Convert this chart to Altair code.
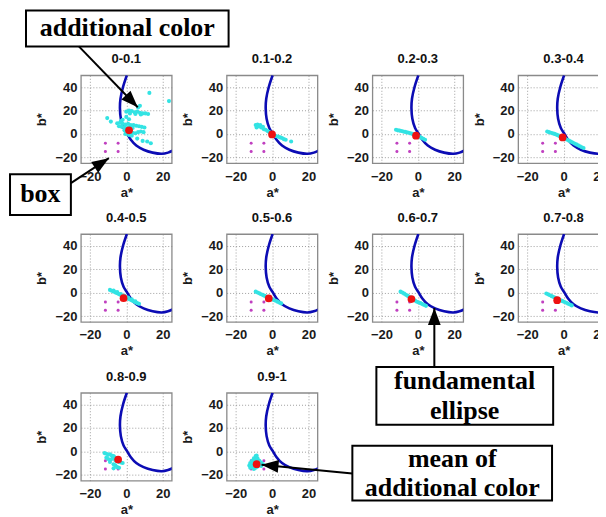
import altair as alt
import pandas as pd

# ---------------- data ----------------
panel_titles = ["0-0.1", "0.1-0.2", "0.2-0.3", "0.3-0.4", "0.4-0.5",
                "0.5-0.6", "0.6-0.7", "0.7-0.8", "0.8-0.9", "0.9-1"]

# fundamental ellipse (same in every panel), points along the curve
ellipse_a = [0.3, -1.8, -3.2, -3.5, -3.0, -1.5, 0.5, 2.5, 5.5, 9.5, 14.5, 19.5, 23.0, 26.0]
ellipse_b = [50.0, 40.0, 30.0, 22.0, 13.0, 5.0, 0.0, -5.0, -10.0, -13.5, -16.0, -17.0, -16.0, -14.0]

# the "box" (four magenta corner points)
box_a = [-11.5, -4.5, -11.5, -4.5]
box_b = [-8.0, -8.0, -15.0, -15.0]

# mean of additional color, one per panel
mean_a = [1.5, 0.0, -1.0, -0.5, -1.5, -1.8, -3.5, -3.5, -4.5, -8.5]
mean_b = [3.0, -0.5, -1.5, -3.0, -4.8, -5.0, -5.5, -6.5, -7.0, -11.0]

# additional color clouds, (a*, b*) pairs per panel
cloud_0 = [(0, 19), (1.5, 20), (3, 19.5), (4.5, 18.5), (6, 19), (7.5, 18), (9, 17.5), (10.5, 17.5),
           (12, 17), (2, 17.5), (5, 17), (8, 16.5), (6.5, 22.5), (7.5, 24), (12.7, 35), (23.5, 28),
           (-10.5, 13.5), (-8.5, 10.5), (0, 14.5), (-2, 12), (1.5, 12.5), (-3, 11),
           (-5, 9), (-3.5, 9.5), (-2, 8.5), (-0.5, 8), (1, 8.5), (2.5, 7.5), (4, 7.5), (5.5, 7),
           (7, 6.5), (8.5, 6), (10, 5.5), (-4, 6.5), (-2.5, 6), (-1, 5.5), (0.5, 5), (2, 5.5), (3.5, 5),
           (-1, 3), (0.5, 2), (2, 1.5), (3.5, 1), (5, 0.5), (6.5, 1.5), (8, 2), (9.5, 1.5), (-0.5, 0),
           (1.5, -1), (3, -1.5), (6, -4), (9, -6), (11.5, -6.5), (13.5, -8)]
cloud_1 = [(-9, 7.5), (-8, 8), (-7.5, 6.5), (-6.5, 7.5), (-6, 5.5), (-5, 6), (-8.5, 5.5), (-4.5, 4),
           (-3.5, 3.5), (-2.5, 2.5), (-1.5, 1.5), (-0.5, 0.5), (0.5, -0.5), (1.5, -1.5), (2.5, -2),
           (3.5, -2.5), (4.5, -3), (5.5, -3.5), (6.5, -4.5), (7.5, -5), (10.5, -6.5)]
cloud_2 = [(-12, 3.5), (-11, 3), (-10, 2.8), (-9, 2.5), (-8, 2), (-7, 1.7), (-6, 1.3), (-5, 1), (-4, 0.5),
           (-3, 0), (-2, -0.6), (-1, -1.2), (0, -1.8), (1, -2.6), (2, -3.4), (3, -4.2), (4, -5)]
cloud_3 = [(-9, 2), (-8, 1.5), (-7, 1), (-6, 0.5), (-5, 0), (-4, -0.6), (-3, -1.3), (-2, -2), (-1, -2.8),
           (0, -3.5), (1, -4.2), (2, -5), (3, -5.8), (4, -6.6), (5, -7.4), (6, -8.2), (7, -9), (8, -9.8),
           (9, -10.6), (10, -11.4), (11, -12)]
cloud_4 = [(-9, 2.3), (-8, 1.6), (-7, 0.9), (-6, 0.2), (-5, -0.5), (-4, -1.3), (-3, -2.1), (-2, -2.9),
           (-1, -3.6), (0, -4.3), (1, -5.1), (2, -5.9), (3, -6.6), (4, -7.4), (5, -8.2), (6, -9), (7, -9.6),
           (-7, 1.8), (-5, 0.5), (-3, -1.2), (-1, -2.8), (1, -4.2), (3, -5.8), (5, -7.5)]
cloud_5 = [(-9, 0.8), (-8, 0.1), (-7, -0.6), (-6, -1.4), (-5, -2.1), (-4, -2.8), (-3, -3.6), (-2, -4.3),
           (-1, -5), (0, -5.6), (1, -6.3), (2, -7), (3, -7.7), (4, -8.5), (5, -9.2)]
cloud_6 = [(-9.5, 0.8), (-8.5, 0), (-7.5, -0.9), (-6.5, -1.9), (-5.5, -2.8), (-4.5, -3.8), (-3.5, -4.8),
           (-2.5, -5.8), (-1.5, -6.8), (-0.5, -7.8), (0.5, -8.4), (1.5, -9), (2.5, -9.8), (3.5, -10.6),
           (4.5, -11.3)]
cloud_7 = [(-9.5, -0.8), (-8.5, -1.5), (-7.5, -2.2), (-6.5, -3), (-5.5, -3.7), (-4.5, -4.4), (-3.5, -5.2),
           (-2.5, -5.9), (-1.5, -6.6), (-0.5, -7.3), (0.5, -8), (1.5, -8.7), (2.5, -9.5), (3.5, -10.2),
           (4.5, -10.9)]
cloud_8 = [(-12, -1.5), (-11, -2), (-10, -3), (-9, -2.5), (-8, -3.5), (-7, -4), (-6.5, -5), (-11, -5.5),
           (-10, -6.5), (-8.5, -7), (-7.5, -6), (-6, -7.5), (-5, -8.5), (-4, -9), (-3, -9.5), (-2, -10),
           (-7, -11), (-6, -12), (-5, -13.5), (-7, -14.5), (-4, -14), (-9, -9)]
cloud_9 = [(-12, -10), (-12.5, -12), (-11, -8), (-11, -13.5), (-10, -6), (-10, -9), (-10, -12), (-9, -4),
           (-9, -7.5), (-9, -14), (-8, -6), (-8, -9), (-8, -13), (-7, -8), (-7, -11), (-6, -9.5),
           (-6, -12.5), (-5, -11), (-8.5, -3.5), (-12, -14), (-10, -15), (-11, -11)]
clouds = [cloud_0, cloud_1, cloud_2, cloud_3, cloud_4, cloud_5, cloud_6, cloud_7, cloud_8, cloud_9]

# annotations (in data units of the panel they are drawn in)
annotations = {
    0: [dict(box=(-55.2, 56.3, 105.4, 74.7), lines=[("additional color", 0.55, 90.1)],
             arrow=(-26.1, 74.7, 6.3, 22.7, 46.0)),
        dict(box=(-64.0, -30.5, -34.4, -69.3), lines=[("box", -47.3, -51.4)],
             arrow=(-30.5, -42.0, -9.6, -20.7, 326.8))],
    6: [dict(box=(-22.8, 74.5, -63.4, -112.8),
             lines=[("fundamental", 25.8, -75.3), ("ellipse", 25.8, -100.9)],
             arrow=(9.1, -63.4, 9.1, -13.1, 270.0))],
    9: [dict(box=(44.2, 154.1, 4.8, -42.0),
             lines=[("mean of", 99.2, -6.25), ("additional color", 99.2, -31.0)],
             arrow=(44.2, -19.0, -5.8, -11.4, 185.6))],
}

# ---------------- chart ----------------
W, H = 91, 88
xs = alt.Scale(domain=[-25, 25], nice=False, zero=False)
ys = alt.Scale(domain=[-25, 50], nice=False, zero=False)
X = alt.X("a:Q", scale=xs, title="a*",
          axis=alt.Axis(values=[-20, 0, 20], labelPadding=7, titlePadding=3))
Y = alt.Y("b:Q", scale=ys, title="b*",
          axis=alt.Axis(values=[-20, 0, 20, 40], labelPadding=4, titlePadding=6))

ell_df = pd.DataFrame({"a": ellipse_a, "b": ellipse_b, "i": range(len(ellipse_a))})
box_df = pd.DataFrame({"a": box_a, "b": box_b})

ARROW = "M0,0L-2,-0.75L-2,0.75Z"


def panel(k):
    layers = []
    layers.append(alt.Chart(ell_df).mark_line(color="#0c0cb4", strokeWidth=2.6,
                                              interpolate="catmull-rom", clip=True)
                  .encode(x=X, y=Y, order="i:Q"))
    layers.append(alt.Chart(box_df).mark_circle(color="#c040c0", size=9, opacity=1)
                  .encode(x=X, y=Y))
    cdf = pd.DataFrame(clouds[k], columns=["a", "b"])
    layers.append(alt.Chart(cdf).mark_circle(color="#33e3e3", size=17, opacity=1)
                  .encode(x=X, y=Y))
    mdf = pd.DataFrame({"a": [mean_a[k]], "b": [mean_b[k]]})
    layers.append(alt.Chart(mdf).mark_circle(color="#ee1111", size=60, opacity=1)
                  .encode(x=X, y=Y))
    tdf0 = pd.DataFrame({"t": [panel_titles[k]]})
    layers.append(alt.Chart(tdf0).mark_text(font="Liberation Sans", fontWeight="bold",
                                            fontSize=13, baseline="middle", align="center",
                                            color="#111111")
                  .encode(x=alt.value(W / 2), y=alt.value(-16), text="t:N"))
    for ann in annotations.get(k, []):
        a1, a2, b1, b2 = ann["box"]
        rdf = pd.DataFrame({"a": [a1], "a2": [a2], "b": [b1], "b2": [b2]})
        layers.append(alt.Chart(rdf).mark_rect(fill="white", stroke="black", strokeWidth=2)
                      .encode(x=X, x2="a2:Q", y=Y, y2="b2:Q"))
        tdf = pd.DataFrame(ann["lines"], columns=["t", "a", "b"])
        layers.append(alt.Chart(tdf).mark_text(font="Liberation Serif", fontWeight="bold",
                                               fontSize=26, baseline="middle", align="center",
                                               color="black")
                      .encode(x=X, y=Y, text="t:N"))
        sa, sb, ta, tb, ang = ann["arrow"]
        adf = pd.DataFrame({"a": [sa], "b": [sb], "a2": [ta], "b2": [tb]})
        layers.append(alt.Chart(adf).mark_rule(color="black", strokeWidth=2)
                      .encode(x=X, y=Y, x2="a2:Q", y2="b2:Q"))
        hdf = pd.DataFrame({"a": [ta], "b": [tb], "ang": [ang]})
        layers.append(alt.Chart(hdf).mark_point(shape=ARROW, filled=True, color="black",
                                                size=289, opacity=1, strokeWidth=0)
                      .encode(x=X, y=Y, angle=alt.Angle("ang:Q", scale=None)))
    return alt.layer(*layers).properties(width=W, height=H)


chart = alt.concat(*[panel(k) for k in range(10)], columns=4,
                   spacing={"row": 71, "column": 55}, bounds="flush").properties(
    padding={"left": 0, "top": 0, "right": -12, "bottom": 0}
).configure_view(stroke="#8a8a8a", strokeWidth=1.3).configure_axis(
    labelFont="Liberation Sans", labelFontSize=13, labelFontWeight="bold", labelColor="#1a1a1a",
    titleFont="Liberation Sans", titleFontSize=13, titleFontWeight="bold", titleColor="#1a1a1a",
    grid=True, gridDash=[1, 2], gridColor="#888888", gridWidth=0.8,
    domain=False, ticks=False, tickSize=0
)

chart.save("out.html", embed_options={"renderer": "svg", "actions": False})
